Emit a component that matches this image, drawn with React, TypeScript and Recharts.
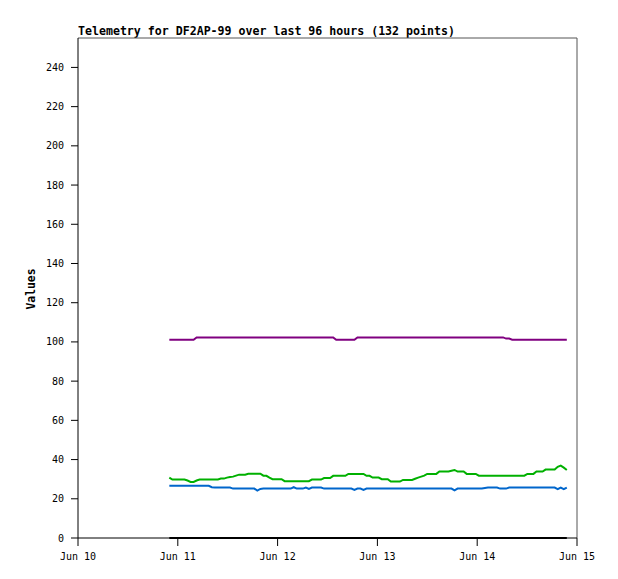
import { LineChart, Line, XAxis, YAxis, ReferenceLine, Label } from 'recharts';

const TITLE = 'Telemetry for DF2AP-99 over last 96 hours (132 points)';

// sample times: hours after Jun 10 00:00
const START_HOUR = 21.96;
const STEP_HOURS = 0.7297;

const DAY_TICKS = [0, 24, 48, 72, 96, 120];
const DAY_LABELS = ['Jun 10', 'Jun 11', 'Jun 12', 'Jun 13', 'Jun 14', 'Jun 15'];
const VALUE_TICKS = [0, 20, 40, 60, 80, 100, 120, 140, 160, 180, 200, 220, 240];

const purple = [
  101.1, 101.1, 101.1, 101.1, 101.1, 101.1, 101.1, 101.1, 101.1, 102.3,
  102.3, 102.3, 102.3, 102.3, 102.3, 102.3, 102.3, 102.3, 102.3, 102.3,
  102.3, 102.3, 102.3, 102.3, 102.3, 102.3, 102.3, 102.3, 102.3, 102.3,
  102.3, 102.3, 102.3, 102.3, 102.3, 102.3, 102.3, 102.3, 102.3, 102.3,
  102.3, 102.3, 102.3, 102.3, 102.3, 102.3, 102.3, 102.3, 102.3, 102.3,
  102.3, 102.3, 102.3, 102.3, 102.3, 101.1, 101.1, 101.1, 101.1, 101.1,
  101.1, 101.1, 102.3, 102.3, 102.3, 102.3, 102.3, 102.3, 102.3, 102.3,
  102.3, 102.3, 102.3, 102.3, 102.3, 102.3, 102.3, 102.3, 102.3, 102.3,
  102.3, 102.3, 102.3, 102.3, 102.3, 102.3, 102.3, 102.3, 102.3, 102.3,
  102.3, 102.3, 102.3, 102.3, 102.3, 102.3, 102.3, 102.3, 102.3, 102.3,
  102.3, 102.3, 102.3, 102.3, 102.3, 102.3, 102.3, 102.3, 102.3, 102.3,
  102.3, 101.7, 101.7, 101.1, 101.1, 101.1, 101.1, 101.1, 101.1, 101.1,
  101.1, 101.1, 101.1, 101.1, 101.1, 101.1, 101.1, 101.1, 101.1, 101.1,
  101.1, 101.1,
];

const green = [
  30.8, 29.8, 29.8, 29.8, 29.8, 29.8, 29.3, 28.6, 28.6, 29.3,
  29.8, 29.8, 29.8, 29.8, 29.8, 29.8, 29.8, 30.3, 30.3, 30.8,
  31.1, 31.3, 31.8, 32.3, 32.3, 32.3, 32.8, 32.8, 32.8, 32.8,
  32.8, 31.8, 31.7, 30.8, 30.0, 30.0, 30.0, 30.0, 29.0, 29.0,
  29.0, 29.0, 29.0, 29.0, 29.0, 29.0, 29.0, 29.8, 29.8, 29.8,
  29.8, 30.6, 30.6, 30.6, 31.7, 31.7, 31.7, 31.7, 31.7, 32.7,
  32.7, 32.7, 32.7, 32.7, 32.7, 31.7, 31.7, 30.8, 30.8, 30.8,
  30.0, 30.0, 30.0, 28.8, 28.8, 28.8, 28.8, 29.6, 29.6, 29.6,
  29.6, 30.2, 30.8, 31.3, 31.8, 32.7, 32.7, 32.7, 32.7, 33.9,
  33.9, 33.9, 33.9, 34.3, 34.7, 33.9, 33.9, 33.9, 32.7, 32.7,
  32.7, 32.7, 31.8, 31.8, 31.8, 31.8, 31.8, 31.8, 31.8, 31.8,
  31.8, 31.8, 31.8, 31.8, 31.8, 31.8, 31.8, 31.8, 32.7, 32.7,
  32.7, 33.9, 33.9, 33.9, 34.9, 34.9, 34.9, 34.9, 36.3, 36.9,
  35.9, 34.7,
];

const blue = [
  26.6, 26.6, 26.6, 26.6, 26.6, 26.6, 26.6, 26.6, 26.6, 26.6,
  26.6, 26.6, 26.6, 26.6, 25.9, 25.7, 25.7, 25.7, 25.7, 25.7,
  25.7, 25.2, 25.2, 25.2, 25.2, 25.2, 25.2, 25.2, 25.2, 24.2,
  25.0, 25.2, 25.2, 25.2, 25.2, 25.2, 25.2, 25.2, 25.2, 25.2,
  25.2, 25.9, 25.2, 25.2, 25.2, 25.7, 25.0, 25.7, 25.7, 25.7,
  25.7, 25.2, 25.2, 25.2, 25.2, 25.2, 25.2, 25.2, 25.2, 25.2,
  25.2, 24.5, 25.2, 25.2, 24.5, 25.2, 25.2, 25.2, 25.2, 25.2,
  25.2, 25.2, 25.2, 25.2, 25.2, 25.2, 25.2, 25.2, 25.2, 25.2,
  25.2, 25.2, 25.2, 25.2, 25.2, 25.2, 25.2, 25.2, 25.2, 25.2,
  25.2, 25.2, 25.2, 25.2, 24.3, 25.2, 25.2, 25.2, 25.2, 25.2,
  25.2, 25.2, 25.2, 25.2, 25.5, 25.7, 25.7, 25.7, 25.7, 25.2,
  25.2, 25.2, 25.7, 25.7, 25.7, 25.7, 25.7, 25.7, 25.7, 25.7,
  25.7, 25.7, 25.7, 25.7, 25.7, 25.7, 25.7, 25.7, 24.9, 25.7,
  24.9, 25.7,
];

const black = [
  0, 0, 0, 0, 0, 0, 0, 0, 0, 0,
  0, 0, 0, 0, 0, 0, 0, 0, 0, 0,
  0, 0, 0, 0, 0, 0, 0, 0, 0, 0,
  0, 0, 0, 0, 0, 0, 0, 0, 0, 0,
  0, 0, 0, 0, 0, 0, 0, 0, 0, 0,
  0, 0, 0, 0, 0, 0, 0, 0, 0, 0,
  0, 0, 0, 0, 0, 0, 0, 0, 0, 0,
  0, 0, 0, 0, 0, 0, 0, 0, 0, 0,
  0, 0, 0, 0, 0, 0, 0, 0, 0, 0,
  0, 0, 0, 0, 0, 0, 0, 0, 0, 0,
  0, 0, 0, 0, 0, 0, 0, 0, 0, 0,
  0, 0, 0, 0, 0, 0, 0, 0, 0, 0,
  0, 0, 0, 0, 0, 0, 0, 0, 0, 0,
  0, 0,
];

const data = purple.map((_, i) => ({
  t: START_HOUR + i * STEP_HOURS,
  purple: purple[i],
  green: green[i],
  blue: blue[i],
  black: black[i],
}));

const MONO = '"DejaVu Sans Mono", "Liberation Mono", monospace';
const tickStyle = { fill: '#000', fontSize: 10, fontFamily: MONO };

export default function App() {
  return (
    <div style={{ position: 'relative', width: 618, height: 579, background: '#fff' }}>
      <style>{'body { margin: 0; }'}</style>
      <div
        style={{
          position: 'absolute',
          left: 78,
          top: 25,
          fontFamily: MONO,
          fontWeight: 'bold',
          fontSize: 11.6,
          lineHeight: '12px',
          whiteSpace: 'nowrap',
        }}
      >
        {TITLE}
      </div>
      <LineChart
        width={618}
        height={579}
        data={data}
        margin={{ top: 38, right: 41, bottom: 0, left: 0 }}
      >
        <XAxis
          type="number"
          dataKey="t"
          domain={[0, 120]}
          ticks={DAY_TICKS}
          tickFormatter={(v) => DAY_LABELS[DAY_TICKS.indexOf(v)]}
          height={41}
          stroke="#000"
          tickSize={8}
          tickMargin={7}
          tick={tickStyle}
          interval={0}
        />
        <YAxis
          type="number"
          domain={[0, 255]}
          ticks={VALUE_TICKS}
          width={78}
          stroke="#000"
          tickSize={7}
          tickMargin={7}
          tick={tickStyle}
          interval={0}
        >
          <Label
            content={() => (
              <text
                x={31}
                y={289}
                transform="rotate(-90 31 289)"
                textAnchor="middle"
                dominantBaseline="central"
                fontFamily={MONO}
                fontWeight="bold"
                fontSize={11.4}
                fill="#000"
              >
                Values
              </text>
            )}
          />
        </YAxis>
        <ReferenceLine y={255} stroke="#555" />
        <ReferenceLine x={120} stroke="#555" />
        <Line type="linear" dataKey="purple" stroke="#800080" strokeWidth={2} dot={false} isAnimationActive={false} />
        <Line type="linear" dataKey="green" stroke="#00b000" strokeWidth={2} dot={false} isAnimationActive={false} />
        <Line type="linear" dataKey="blue" stroke="#0066cc" strokeWidth={2} dot={false} isAnimationActive={false} />
        <Line type="linear" dataKey="black" stroke="#000" strokeWidth={2} dot={false} isAnimationActive={false} />
      </LineChart>
    </div>
  );
}
